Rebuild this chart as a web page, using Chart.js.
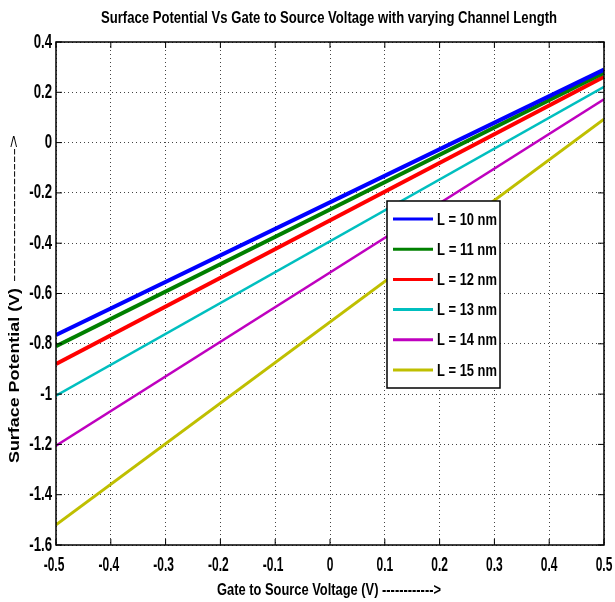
<!DOCTYPE html>
<html>
<head>
<meta charset="utf-8">
<script src="https://cdn.jsdelivr.net/npm/chart.js@4.4.1/dist/chart.umd.min.js"></script>
<style>
html,body{margin:0;padding:0;background:#fff;}
#wrap{width:615px;height:602px;}
</style>
</head>
<body>
<div id="wrap"><canvas id="c" width="615" height="602"></canvas></div>
<script>
const titleText = "Surface Potential Vs Gate to Source Voltage with varying Channel Length";
const xTitle = "Gate to Source Voltage (V) ------------>";
const yTitleText = "Surface Potential (V)";
const yTitleArrow = "------------------>";
const gateVoltage = [-0.5, 0.5];
const seriesLabels = ["L = 10 nm","L = 11 nm","L = 12 nm","L = 13 nm","L = 14 nm","L = 15 nm"];
const L10 = [-0.765, 0.290];
const L11 = [-0.810, 0.278];
const L12 = [-0.880, 0.262];
const L13 = [-1.006, 0.222];
const L14 = [-1.205, 0.172];
const L15 = [-1.520, 0.093];
const xTicks = [-0.5,-0.4,-0.3,-0.2,-0.1,0,0.1,0.2,0.3,0.4,0.5];
const yTicks = [0.4,0.2,0,-0.2,-0.4,-0.6,-0.8,-1,-1.2,-1.4,-1.6];

const colors = ["#0000ff","#008000","#ff0000","#00bfbf","#bf00bf","#bfbf00"];
const widths = [4,4,4,2.5,2.5,3];
const allSeries = [L10,L11,L12,L13,L14,L15];
const SANS = "'Liberation Sans',Arial,sans-serif";

const datasets = allSeries.map((s,i)=>({
  label: seriesLabels[i],
  data: gateVoltage.map((x,j)=>({x:x,y:s[j]})),
  borderColor: colors[i],
  backgroundColor: colors[i],
  borderWidth: widths[i],
  pointRadius: 0,
  fill:false,
  tension:0
}));

function fmt(v){
  const r = Math.round(v*10)/10;
  if (r===0) return "0";
  return String(r);
}

function drawScaled(ctx, text, x, y, sx, align){
  const w = ctx.measureText(text).width * sx;
  let left = x;
  if (align === 'center') left = x - w/2;
  else if (align === 'right') left = x - w;
  ctx.save();
  ctx.translate(left, y);
  ctx.scale(sx, 1);
  ctx.textAlign = 'left';
  ctx.fillText(text, 0, 0);
  ctx.restore();
}
function drawFit(ctx, text, x0, x1, y){
  const w = ctx.measureText(text).width;
  const sx = (x1 - x0) / w;
  ctx.save();
  ctx.translate(x0, y);
  ctx.scale(sx, 1);
  ctx.textAlign = 'left';
  ctx.fillText(text, 0, 0);
  ctx.restore();
}

const decor = {
  id:'decor',
  afterDraw(chart){
    const ctx = chart.ctx, a = chart.chartArea;
    const xs = chart.scales.x, ys = chart.scales.y;
    ctx.save();
    // frame
    ctx.strokeStyle = "#000";
    ctx.lineWidth = 1.5;
    ctx.strokeRect(a.left, a.top, a.right-a.left, a.bottom-a.top);
    // inward tick marks
    ctx.lineWidth = 1;
    xTicks.forEach(v=>{
      const px = xs.getPixelForValue(v);
      ctx.beginPath(); ctx.moveTo(px,a.bottom); ctx.lineTo(px,a.bottom-6); ctx.stroke();
      ctx.beginPath(); ctx.moveTo(px,a.top); ctx.lineTo(px,a.top+6); ctx.stroke();
    });
    yTicks.forEach(v=>{
      const py = ys.getPixelForValue(v);
      ctx.beginPath(); ctx.moveTo(a.left,py); ctx.lineTo(a.left+6,py); ctx.stroke();
      ctx.beginPath(); ctx.moveTo(a.right,py); ctx.lineTo(a.right-6,py); ctx.stroke();
    });
    ctx.fillStyle = "#000";
    ctx.textBaseline = "middle";
    // tick labels
    ctx.font = "bold 20px " + SANS;
    xTicks.forEach(v=>{
      const px = xs.getPixelForValue(v);
      drawScaled(ctx, fmt(v), px - (v<0?2:0), 565, 0.6, 'center');
    });
    yTicks.forEach(v=>{
      const py = ys.getPixelForValue(v);
      drawScaled(ctx, fmt(v), 52, py, 0.66, 'right');
    });
    // title
    ctx.font = "bold 17px " + SANS;
    drawFit(ctx, titleText, 101, 557, 18);
    // x title
    ctx.font = "bold 16px " + SANS;
    drawFit(ctx, xTitle, 217, 441, 591);
    // y title
    ctx.save();
    ctx.translate(15, 0);
    ctx.rotate(-Math.PI/2);
    ctx.font = "bold 15px " + SANS;
    drawFit(ctx, yTitleText, -463, -288, 0);
    ctx.font = "13px " + SANS;
    drawFit(ctx, yTitleArrow, -282, -135, -1);
    ctx.restore();
    // legend
    const lx = 387, ly = 201, lw = 113, lh = 187;
    ctx.fillStyle = "#fff";
    ctx.fillRect(lx, ly, lw, lh);
    ctx.strokeStyle = "#000"; ctx.lineWidth = 1.5;
    ctx.strokeRect(lx, ly, lw, lh);
    ctx.font = "bold 17px " + SANS;
    chart.data.datasets.forEach((d,i)=>{
      const yy = ly + 18 + i*30.2;
      ctx.strokeStyle = d.borderColor; ctx.lineWidth = 3;
      ctx.beginPath(); ctx.moveTo(lx+6, yy); ctx.lineTo(lx+46, yy); ctx.stroke();
      ctx.fillStyle = "#000";
      drawFit(ctx, d.label, lx+50, lx+110, yy+1);
    });
    ctx.restore();
  }
};

new Chart(document.getElementById('c'), {
  type:'line',
  data:{datasets},
  options:{
    responsive:false,
    animation:false,
    devicePixelRatio:1,
    layout:{padding:{left:0,top:42,right:11,bottom:0}},
    plugins:{legend:{display:false}, title:{display:false}, tooltip:{enabled:false}},
    scales:{
      x:{
        type:'linear', min:-0.5, max:0.5,
        afterBuildTicks(s){ s.ticks = xTicks.map(v=>({value:v})); },
        afterFit(s){ s.height = 57; },
        grid:{color:'#444', lineWidth:1, drawTicks:false},
        border:{display:false, dash:[1,3]},
        ticks:{display:false}
      },
      y:{
        type:'linear', min:-1.6, max:0.4,
        afterBuildTicks(s){ s.ticks = yTicks.map(v=>({value:v})); },
        afterFit(s){ s.width = 56; },
        grid:{color:'#444', lineWidth:1, drawTicks:false},
        border:{display:false, dash:[1,3]},
        ticks:{display:false}
      }
    }
  },
  plugins:[decor]
});
</script>
</body>
</html>
